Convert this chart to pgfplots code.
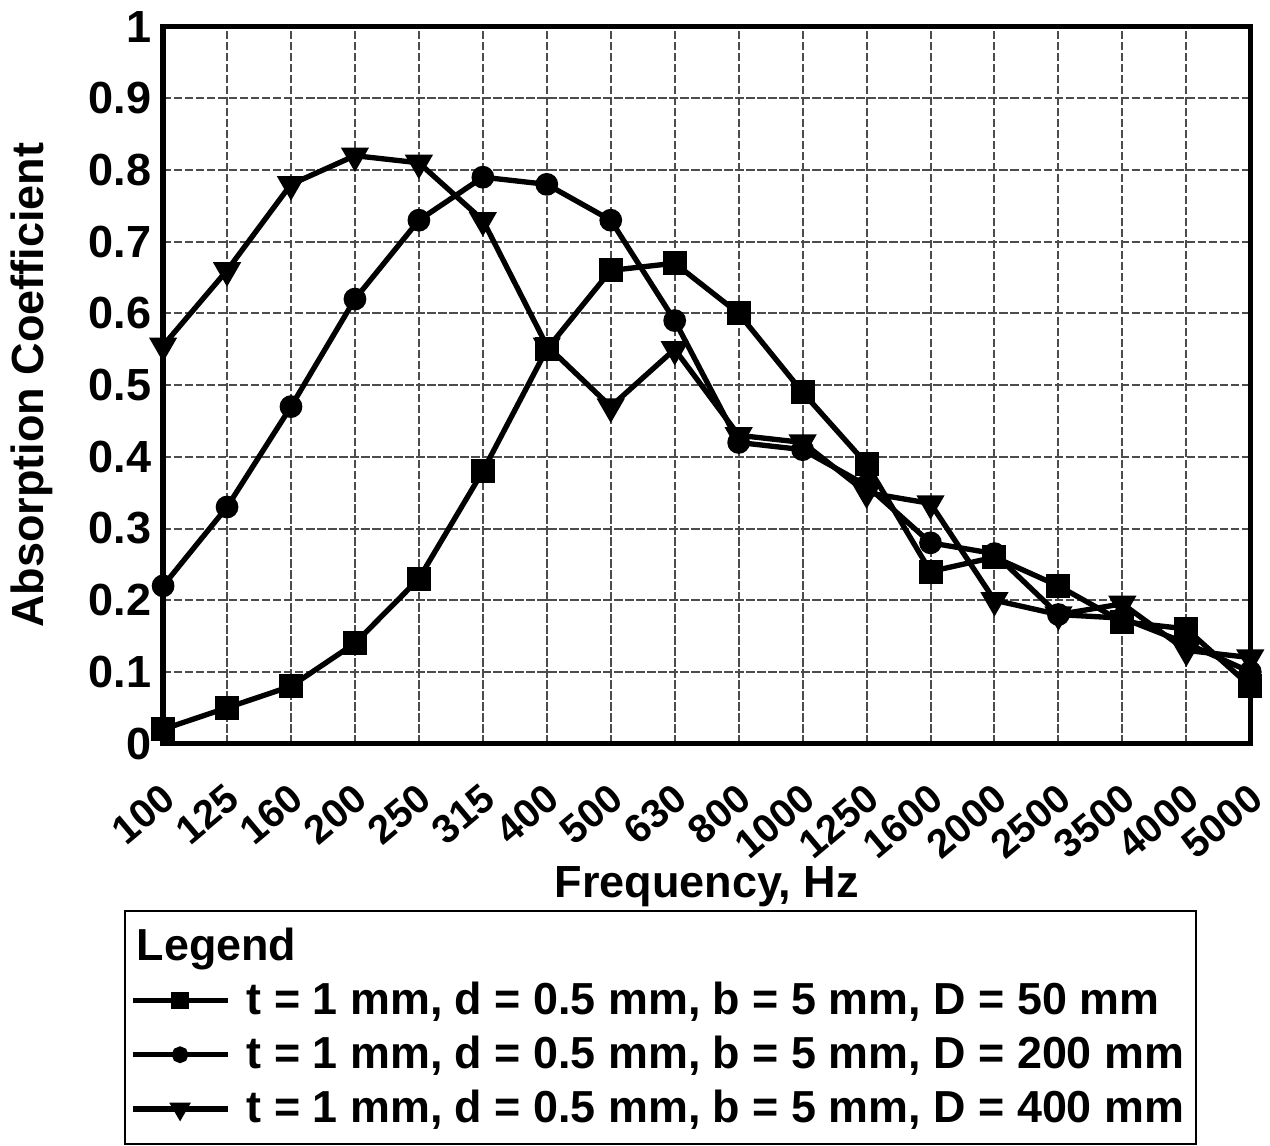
\documentclass[border=0pt]{standalone}
\usepackage{fontspec}
\setmainfont{Liberation Sans}
\usepackage{pgfplots}
\pgfplotsset{compat=1.18}

\begin{document}
\begin{tikzpicture}
\begin{axis}[
  width=326pt, height=215pt, scale only axis,
  xmin=0, xmax=17, ymin=0, ymax=1,
  clip=false,
  xtick={0,...,17},
  xticklabels={100,125,160,200,250,315,400,500,630,800,1000,1250,1600,2000,2500,3500,4000,5000},
  ytick={0,0.1,0.2,0.3,0.4,0.5,0.6,0.7,0.8,0.9,1},
  font=\fontsize{13.5}{16}\selectfont\bfseries,
  yticklabel style={font=\fontsize{13.5}{16}\selectfont\bfseries},
  /pgf/number format/assume math mode=true,
  xticklabel style={font=\fontsize{12}{14}\selectfont\bfseries,
    xshift=-0.8pt, rotate=40, anchor=north east, inner sep=1pt},
  xticklabel shift=9.8pt,
  major tick length=0pt,
  grid=major,
  grid style={draw=black!70, line width=0.6pt, dash pattern=on 2.5pt off 0.8pt},
  axis line style={line width=1.6pt},
  xlabel={Frequency, Hz},
  ylabel={Absorption Coefficient},
  xlabel style={at={(axis description cs:0.5,-0.2)}, anchor=center},
  ylabel style={at={(axis description cs:-0.1205,0.5)}, anchor=center},
  legend cell align=left,
  legend style={at={(axis description cs:-0.036,-0.232)}, anchor=north west,
    draw=black, line width=0.6pt, font=\fontsize{13.45}{16}\selectfont\bfseries,
    row sep=1pt, column sep=3pt, inner xsep=1.5pt, inner ysep=3pt},
  legend image code/.code={\draw[mark repeat=2,mark phase=2,#1,every mark/.append style={scale=0.65}]
    plot coordinates {(0cm,0cm) (0.5cm,0cm) (1cm,0cm)};},
  every axis plot/.append style={black, line width=1.6pt},
]
\addlegendimage{empty legend}
\addlegendentry{\hspace*{-33pt}Legend}

% D = 50 mm
\addplot[mark=square*, mark size=2.8pt] coordinates {
  (0,0.02) (1,0.05) (2,0.08) (3,0.14) (4,0.23) (5,0.38) (6,0.55) (7,0.66) (8,0.67)
  (9,0.60) (10,0.49) (11,0.39) (12,0.24) (13,0.26) (14,0.22) (15,0.17) (16,0.16) (17,0.08)};
\addlegendentry{t = 1 mm, d = 0.5 mm, b = 5 mm, D = 50 mm}

% D = 200 mm
\addplot[mark=*, mark size=2.6pt] coordinates {
  (0,0.22) (1,0.33) (2,0.47) (3,0.62) (4,0.73) (5,0.79) (6,0.78) (7,0.73) (8,0.59)
  (9,0.42) (10,0.41) (11,0.36) (12,0.28) (13,0.265) (14,0.18) (15,0.175) (16,0.14) (17,0.10)};
\addlegendentry{t = 1 mm, d = 0.5 mm, b = 5 mm, D = 200 mm}

% D = 400 mm
\addplot[mark=triangle*, mark size=3.3pt, mark options={rotate=180}] coordinates {
  (0,0.555) (1,0.66) (2,0.78) (3,0.82) (4,0.81) (5,0.73) (6,0.555) (7,0.47) (8,0.55)
  (9,0.43) (10,0.42) (11,0.35) (12,0.335) (13,0.20) (14,0.18) (15,0.195) (16,0.13) (17,0.12)};
\addlegendentry{t = 1 mm, d = 0.5 mm, b = 5 mm, D = 400 mm}
\end{axis}
\end{tikzpicture}
\end{document}
